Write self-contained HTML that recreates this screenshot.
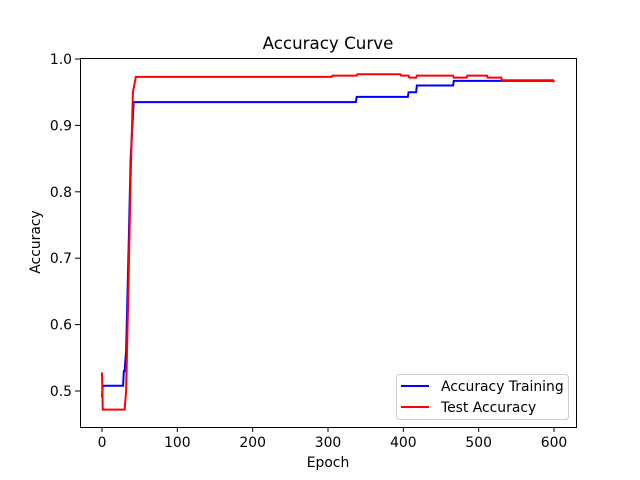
<!DOCTYPE html>
<html><head><meta charset="utf-8"><style>
html,body{margin:0;padding:0;background:#fff;}
svg{display:block;font-family:"DejaVu Sans","Liberation Sans",sans-serif;}
</style></head><body>
<svg id="chart" width="640" height="480"></svg>
<script>
const trainEpochs=[0,1,28,29,30,32,35,38,42,337,338,406,407,417,418,466,467,600];
const trainValues=[0.491,0.508,0.508,0.53,0.53,0.56,0.70,0.85,0.935,0.935,0.943,0.943,0.950,0.950,0.960,0.960,0.967,0.967];
const testEpochs=[0,1,30,32,35,38,41,45,305,306,338,339,396,397,407,408,417,418,466,467,484,485,511,512,530,531,599,600];
const testValues=[0.528,0.472,0.472,0.50,0.65,0.82,0.95,0.973,0.973,0.975,0.975,0.977,0.977,0.975,0.975,0.972,0.972,0.975,0.975,0.972,0.972,0.975,0.975,0.972,0.972,0.968,0.968,0.965];
const xTicks=[0,100,200,300,400,500,600];
const yTicks=[0.5,0.6,0.7,0.8,0.9,1.0];
const NS="http://www.w3.org/2000/svg";
const svg=document.getElementById('chart');
const L=80,R=576,T=58,B=427;
const x=e=>102+(e)*452/600;
const y=v=>391-(v-0.5)*664;
function mk(t,a,p){const el=document.createElementNS(NS,t);for(const k in a)el.setAttribute(k,a[k]);(p||svg).appendChild(el);return el;}
function stepPath(es,vs){let d='';for(let i=0;i<es.length;i++){d+=(i?'L':'M')+x(es[i]).toFixed(2)+','+y(vs[i]).toFixed(2);}return d;}
let t=mk('text',{x:328,y:49,'text-anchor':'middle','font-size':16.7});t.textContent='Accuracy Curve';

let p1=mk('path',{d:stepPath(trainEpochs,trainValues),fill:'none',stroke:'#0000ff','stroke-width':2});

let p2=mk('path',{d:stepPath(testEpochs,testValues),fill:'none',stroke:'#ff0000','stroke-width':2});

let fr=mk('rect',{x:L+0.5,y:T+0.5,width:R-L,height:B-T,fill:'none',stroke:'#000','stroke-width':1});

xTicks.forEach(v=>{const X=x(v);mk('line',{x1:X,x2:X,y1:B,y2:B+5,stroke:'#000'});
 const tx=mk('text',{x:X,y:B+20,'text-anchor':'middle','font-size':13.9});tx.textContent=v;
 });
yTicks.forEach(v=>{const Y=y(v);mk('line',{x1:L,x2:L-5,y1:Y,y2:Y,stroke:'#000'});
 const tx=mk('text',{x:L-8,y:Y+5,'text-anchor':'end','font-size':13.9});tx.textContent=v.toFixed(1);
 });
let xl=mk('text',{x:328,y:467,'text-anchor':'middle','font-size':13.9});xl.textContent='Epoch';

let yl=mk('text',{x:0,y:0,'text-anchor':'middle','font-size':13.9,transform:'translate(40,242) rotate(-90)'});yl.textContent='Accuracy';

let lg=mk('g',{});
mk('rect',{x:396.5,y:374.5,width:172,height:45,rx:3,fill:'#fff','fill-opacity':0.8,stroke:'#ccc'},lg);
[['Accuracy Training','#0000ff',386],['Test Accuracy','#ff0000',407]].forEach(([n,c,Y])=>{
 const g=mk('g',{},lg);
 mk('line',{x1:401,x2:429,y1:Y,y2:Y,stroke:c,'stroke-width':2},g);
 const tx=mk('text',{x:441,y:Y+5,'font-size':13.9},g);tx.textContent=n;});
</script>
</body></html>
